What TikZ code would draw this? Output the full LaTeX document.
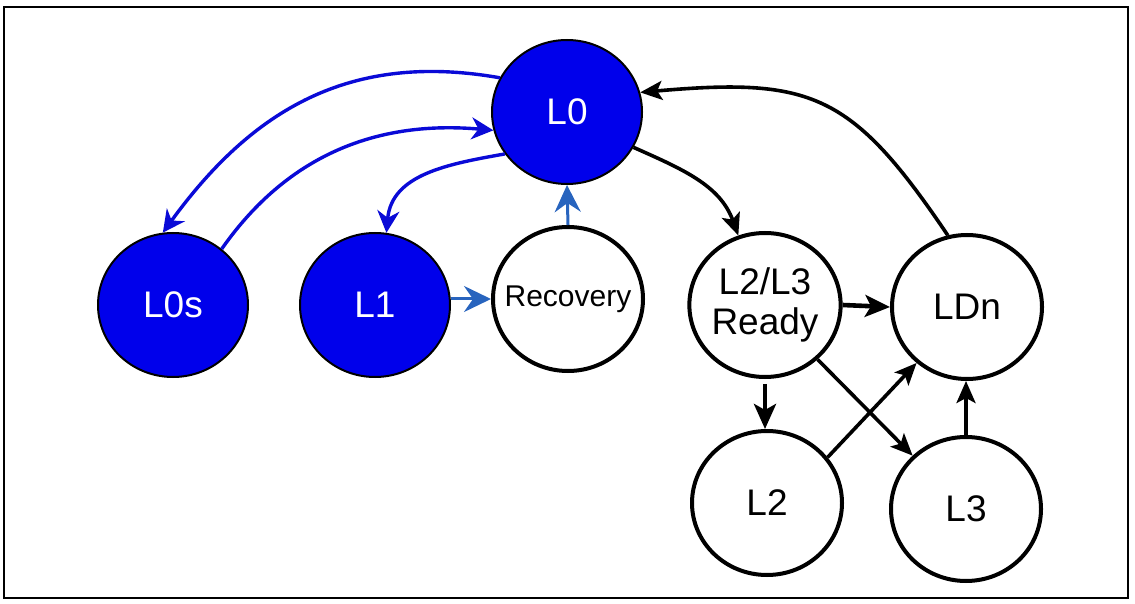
\documentclass[tikz,border=0pt]{standalone}
\usepackage{fontspec}
\setmainfont{Liberation Sans}
\usetikzlibrary{arrows.meta,shapes.geometric}
\definecolor{nodeblue}{RGB}{0,0,235}
\definecolor{arrblue}{RGB}{10,10,215}
\definecolor{steelarr}{RGB}{40,100,190}
\begin{document}
\begin{tikzpicture}[x=1pt,y=1pt,
  st/.style={ellipse, draw=black, fill=white, line width=4pt, minimum width=150pt,
    minimum height=144pt, inner sep=0pt, align=center,
    font=\fontsize{37}{40}\selectfont},
  bst/.style={st, fill=nodeblue, line width=2pt, text=white},
  barr/.style={draw=arrblue, line width=3.4pt,
    -{Stealth[length=22pt,width=22pt,inset=7pt,fill=arrblue]}},
  sarr/.style={draw=steelarr, line width=3pt,
    -{Stealth[length=27pt,width=26pt,inset=9pt,fill=steelarr]}},
  karr/.style={draw=black, line width=3.6pt,
    -{Stealth[length=22pt,width=19pt,inset=5pt]}},
  kthick/.style={draw=black, line width=4.6pt,
    -{Stealth[length=25pt,width=22pt,inset=6pt]}}
]
\useasboundingbox (0,0) rectangle (1135,603);
\draw[line width=2.6pt] (4,596) rectangle (1128,5);

\node[bst] (L0)  at (567,491) {L0};
\node[bst] (L0s) at (173,298) {L0s};
\node[bst] (L1)  at (375,298) {L1};
\node[st]  (Rec) at (568,304) {\fontsize{30}{32}\selectfont\makebox[0pt]{Recovery}};
\node[st]  (Rdy) at (765,298) {L2/L3\\Ready};
\node[st]  (LDn) at (967,296) {LDn};
\node[st]  (L2)  at (767,100) {L2};
\node[st]  (L3)  at (966,94)  {L3};

% blue connectors
\draw[barr] (L0.153) to[out=170,in=54,looseness=1.05] (L0s.98);
\draw[barr] (L0s.49) to[out=55,in=175] (L0.194);
\draw[barr] (L0.214) to[out=190,in=85,looseness=1.05] (L1.81);
\draw[sarr] (L1.east |- Rec.west) -- (Rec.west);
\draw[sarr] (Rec.north) -- (L0.south);

% black connectors
\draw[karr] (L0.332) to[out=-24,in=110] (Rdy.111);
\draw[karr] (LDn.105) to[out=124,in=5,looseness=1.3] (L0.15);
\draw[kthick] (Rdy.east) -- (LDn.west);
\draw[kthick, shorten <=5pt] (Rdy.south) -- (Rdy.south |- L2.north);
\draw[karr] (Rdy.-46) -- (L3.135);
\draw[karr] (L2.37) -- (LDn.228);
\draw[karr] (L3.north) -- (L3.north |- LDn.south);
\end{tikzpicture}
\end{document}
